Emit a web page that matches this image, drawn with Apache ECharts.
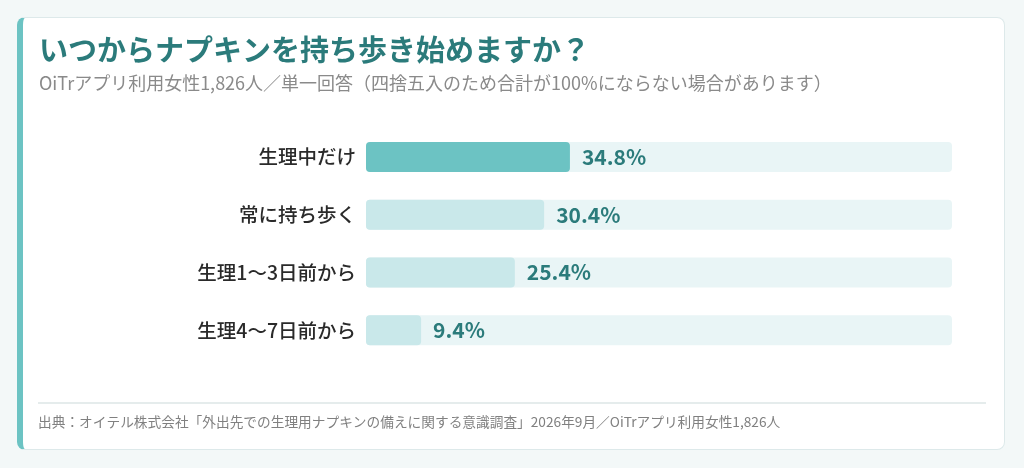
<!DOCTYPE html>
<html><head><meta charset="utf-8">
<script src="https://cdn.jsdelivr.net/npm/echarts@6/dist/echarts.min.js"></script>
<style>
html,body{margin:0;padding:0;background:#f3f8f8;width:1024px;height:468px;overflow:hidden;font-family:"Noto Sans CJK JP","Noto Sans",sans-serif}
#card{position:absolute;left:17px;top:17px;width:988px;height:433px;background:#fff;border-radius:8px;border:1px solid #dde9ea;border-left:6px solid #6cc3c3;box-sizing:border-box}
#c{position:absolute;left:0;top:0;width:1024px;height:468px}
</style></head><body>
<div id="card"></div>
<div id="c"></div>
<script>
const categories = ["生理中だけ","常に持ち歩く","生理1〜3日前から","生理4〜7日前から"];
const values = [34.8, 30.4, 25.4, 9.4];
const trackMax = 100;
const titleText = "いつからナプキンを持ち歩き始めますか？";
const subtitleText = "OiTrアプリ利用女性1,826人／単一回答（四捨五入のため合計が100%にならない場合があります）";
const footerText = "出典：オイテル株式会社「外出先での生理用ナプキンの備えに関する意識調査」2026年9月／OiTrアプリ利用女性1,826人";

const ff = '"Noto Sans CJK JP","Noto Sans",sans-serif';
const chart = echarts.init(document.getElementById('c'));
chart.setOption({
  animation:false,
  textStyle:{fontFamily:ff},
  title:{text:titleText,subtext:subtitleText,left:34,top:30,itemGap:10,
    textStyle:{fontSize:29,fontWeight:'bold',color:'#2b7b7b',fontFamily:ff},
    subtextStyle:{fontSize:18,color:'#8a8a8a',fontFamily:ff}},
  grid:{left:366,right:72,top:128,bottom:109},
  xAxis:{type:'value',min:0,max:trackMax,show:false},
  yAxis:{type:'category',data:categories,inverse:true,
    axisLine:{show:false},axisTick:{show:false},
    axisLabel:{fontSize:19.5,fontWeight:500,color:'#2a2a2a',margin:10,fontFamily:ff}},
  series:[
    {type:'bar',data:categories.map(()=>trackMax),barWidth:30,silent:true,
      itemStyle:{color:'#e9f5f6',borderRadius:4}},
    {type:'bar',data:values.map((v,i)=>({value:v,itemStyle:{color:i===0?'#6cc3c3':'#c9e8ea'}})),
      barWidth:30,barGap:'-100%',itemStyle:{borderRadius:4},
      label:{show:true,position:'right',distance:12,formatter:p=>p.value.toFixed(1)+'%',
        fontSize:21,fontWeight:'bold',color:'#2b7b7b',fontFamily:ff}}
  ],
  graphic:[
    {type:'line',shape:{x1:38,y1:403,x2:986,y2:403},style:{stroke:'#dde6e6',lineWidth:1.5}},
    {type:'text',left:38,top:415,style:{text:footerText,fontSize:13.7,fill:'#808080',fontFamily:ff}}
  ]
});
</script></body></html>
